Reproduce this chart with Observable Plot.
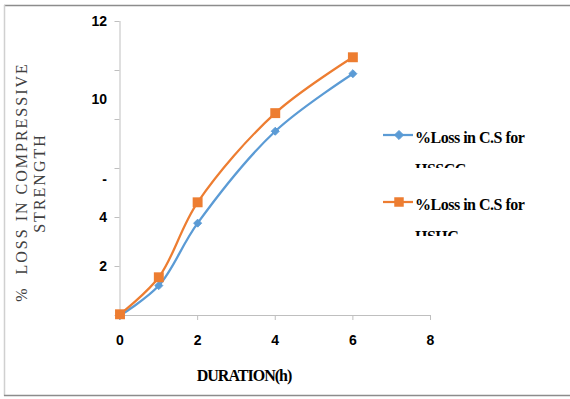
<!DOCTYPE html>
<html><head><meta charset="utf-8">
<script src="https://cdn.jsdelivr.net/npm/d3@7"></script>
<script src="https://cdn.jsdelivr.net/npm/@observablehq/plot@0.6"></script>
<style>
body{margin:0;background:#fff}
#wrap{position:relative;width:570px;height:399px;overflow:hidden;background:#fff}
</style></head><body><div id="wrap"></div>
<script>
const durations = [0, 1, 2, 4, 6];
const lossHSSCC = [0, 1.22, 3.77, 7.52, 9.87];
const lossHSHC = [0.05, 1.56, 4.62, 8.26, 10.54];
const seriesNames = ["HSSCC", "HSHC"];
const legendPrefix = "%Loss in C.S for";
const seriesColors = ["#5B9BD5", "#ED7D31"];
const xTicks = [0, 2, 4, 6, 8];
const yTicks = [0, 2, 4, 6, 8, 10, 12];
const yTickLabels = ["", "2", "4", "", "", "", "12"];
const displacedLabels = [{value: 8.8, label: "10"}, {value: 5.55, label: "-"}];
const xTitle = "DURATION(h)";
const yTitle1 = "%  LOSS IN COMPRESSIVE";
const yTitle2 = "STRENGTH";

const data = durations.flatMap((d, i) => [
  {d, v: lossHSSCC[i], s: seriesNames[0]},
  {d, v: lossHSHC[i], s: seriesNames[1]}
]);

const axisColor = "#bfbfbf";
const plot = Plot.plot({
  width: 570, height: 399,
  marginLeft: 119.5, marginRight: 140, marginTop: 21, marginBottom: 84,
  style: {background: "transparent", fontFamily: "'Liberation Sans Narrow','Arial Narrow',sans-serif", fontWeight: "bold", fontSize: "14px", color: "#000", overflow: "visible"},
  x: {domain: [0, 8]},
  y: {domain: [0, 12]},
  color: {domain: seriesNames, range: seriesColors},
  marks: [
    Plot.axisX({ticks: xTicks, tickSize: 5, tickPadding: 15, stroke: axisColor, fill: "#000", label: null}),
    Plot.axisY({ticks: yTicks, tickSize: 5, tickPadding: 8, stroke: axisColor, fill: "#000", label: null,
      tickFormat: d => yTickLabels[yTicks.indexOf(d)]}),
    Plot.ruleX([0], {stroke: axisColor}),
    Plot.ruleY([0], {stroke: axisColor}),
    Plot.text(displacedLabels, {frameAnchor: "left", y: "value", text: "label", dx: -13, textAnchor: "end", fill: "#000"}),
    Plot.line(data, {x: "d", y: "v", stroke: "s", z: "s", curve: "catmull-rom", strokeWidth: 2.25}),
    Plot.dot(data.filter(p => p.s === seriesNames[0]), {x: "d", y: "v", fill: "s", stroke: "s", symbol: "diamond2", r: 3.6, strokeWidth: 1}),
    Plot.dot(data.filter(p => p.s === seriesNames[1]), {x: "d", y: "v", fill: "s", symbol: "square", r: 5.6})
  ]
});
document.getElementById("wrap").appendChild(plot);

const svg = d3.select(plot);
const color = plot.scale("color");
// outer frame
svg.append("line").attr("x1", 4).attr("x2", 570).attr("y1", 5.5).attr("y2", 5.5).attr("stroke", "#8c8c8c").attr("stroke-width", 1.5);
svg.append("line").attr("x1", 4.5).attr("x2", 4.5).attr("y1", 5).attr("y2", 396).attr("stroke", "#d0d0d0").attr("stroke-width", 1.5);
svg.append("line").attr("x1", 4).attr("x2", 570).attr("y1", 395.5).attr("y2", 395.5).attr("stroke", "#8c8c8c").attr("stroke-width", 1.5);

// y title
const yt = svg.append("g").attr("font-family", "'Liberation Serif',serif").attr("font-weight", "normal").attr("font-size", 16).attr("fill", "#404040").attr("letter-spacing", "2px");
yt.append("text").attr("transform", "translate(27,182) rotate(-90)").attr("text-anchor", "middle").text(yTitle1);
yt.append("text").attr("transform", "translate(45,183) rotate(-90)").attr("text-anchor", "middle").text(yTitle2);

// x title
svg.append("text").attr("x", 244).attr("y", 381).attr("text-anchor", "middle")
  .attr("font-family", "'Liberation Serif',serif").attr("font-weight", "bold").attr("font-size", 16).attr("letter-spacing", "-1px").attr("fill", "#000").text(xTitle);

// legend
const legendY = [135, 202];
const defs = svg.append("defs");
seriesNames.forEach((name, i) => {
  const y = legendY[i];
  const c = color.apply(name);
  const g = svg.append("g");
  g.append("line").attr("x1", 383).attr("x2", 413).attr("y1", y).attr("y2", y).attr("stroke", c).attr("stroke-width", 2.25);
  if (i === 0) g.append("path").attr("d", d3.symbol(d3.symbolDiamond2, 52)()).attr("transform", `translate(399,${y})`).attr("fill", c).attr("stroke", c);
  else g.append("path").attr("d", d3.symbol(d3.symbolSquare, 90)()).attr("transform", `translate(399,${y})`).attr("fill", c);
  const tg = g.append("g").attr("font-family", "'Liberation Serif',serif").attr("font-weight", "bold").attr("font-size", 16).attr("letter-spacing", "-0.5px").attr("fill", "#000").attr("text-anchor", "start");
  tg.append("text").attr("x", 415).attr("y", y + 7.5).text(legendPrefix);
  const clipId = "clip" + i;
  defs.append("clipPath").attr("id", clipId).append("rect").attr("x", 400).attr("y", y + 20).attr("width", 160).attr("height", i === 0 ? 13 : 14);
  tg.append("text").attr("x", 415).attr("y", y + 40).attr("clip-path", `url(#${clipId})`).text(name);
});
</script>
</body></html>
